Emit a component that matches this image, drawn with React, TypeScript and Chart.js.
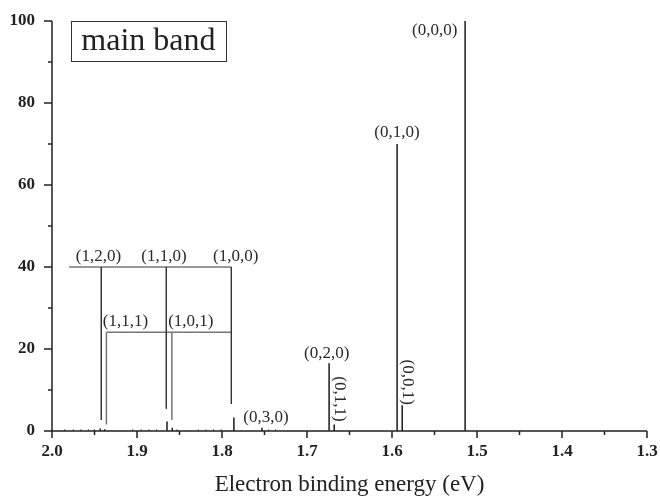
import React, { useEffect, useRef } from "react";
import { Chart, registerables } from "chart.js";
Chart.register(...registerables);

// Stick spectrum (electron binding energy in eV, relative intensity)
const peakEnergies = [1.514, 1.594, 1.588, 1.674, 1.668, 1.753, 1.786, 1.8647, 1.8585, 1.9432, 1.938];
const peakIntensities = [100, 70, 6.3, 16.5, 1.6, 0.8, 3.3, 2.3, 0.8, 0.6, 0.4];
const weakEnergies = [1.985, 1.975, 1.966, 1.957, 1.95, 1.905, 1.895, 1.886, 1.877, 1.853, 1.828, 1.819, 1.81, 1.801, 1.745, 1.737];
const weakIntensities = [0.4, 0.4, 0.4, 0.4, 0.4, 0.4, 0.4, 0.4, 0.4, 0.4, 0.4, 0.4, 0.4, 0.4, 0.4, 0.4];

// Assignment brackets (data coordinates)
const upperLevel = 40;
const upperStart = 1.98;
const upperDropEnergies = [1.942, 1.8655, 1.789];
const upperDropEnds = [2.7, 5.4, 6.6];
const lowerLevel = 24.1;
const lowerStart = 1.9357;
const lowerEnd = 1.789;
const lowerDropEnergies = [1.936, 1.859];
const lowerDropEnds = [1.6, 2.7];

// Labels
const labelTexts = ["(0,0,0)", "(0,1,0)", "(0,2,0)", "(0,3,0)", "(1,2,0)", "(1,1,0)", "(1,0,0)", "(1,1,1)", "(1,0,1)", "(0,1,1)", "(0,0,1)"];
const labelEnergies = [1.5498, 1.5941, 1.6768, 1.7482, 1.9453, 1.8682, 1.7839, 1.9135, 1.8367, 1.662, 1.5815];
const labelValues = [97.6, 72.9, 18.8, 3.2, 42.5, 42.5, 42.5, 26.6, 26.6, 7.8, 11.9];
const labelRotated = [false, false, false, false, false, false, false, false, false, true, true];

const bandTitle = "main band";

const xTickMin = 1.3;
const xTickMax = 2.0;
const yTickMin = 0;
const yTickMax = 100;

function sticks(energies: number[], values: number[]) {
  const pts: any[] = [];
  energies.forEach((e, i) => {
    pts.push({ x: e, y: 0 }, { x: e, y: values[i] }, { x: e, y: null });
  });
  return pts;
}

function bracket(level: number, start: number, end: number, drops: number[], ends: number[]) {
  const pts: any[] = [{ x: start, y: level }, { x: end, y: level }, { x: end, y: null }];
  drops.forEach((e, i) => {
    pts.push({ x: e, y: level }, { x: e, y: ends[i] }, { x: e, y: null });
  });
  return pts;
}

const SERIF = "'Liberation Serif', 'Times New Roman', serif";

const decorPlugin = {
  id: "decor",
  afterDraw(chart: any) {
    const { ctx, chartArea, scales } = chart;
    const xs = scales.x;
    const ys = scales.y;
    ctx.save();
    ctx.strokeStyle = "#222";
    ctx.lineWidth = 1.5;
    ctx.beginPath();
    ctx.moveTo(chartArea.left, chartArea.top);
    ctx.lineTo(chartArea.left, chartArea.bottom);
    ctx.lineTo(chartArea.right, chartArea.bottom);
    ctx.stroke();
    // y ticks
    for (let v = yTickMin; v <= yTickMax + 0.001; v += 10) {
      const py = ys.getPixelForValue(v);
      const major = Math.round(v) % 20 === 0;
      ctx.beginPath();
      ctx.moveTo(chartArea.left, py);
      ctx.lineTo(chartArea.left - (major ? 8 : 4), py);
      ctx.stroke();
    }
    // x ticks
    for (let k = 0; k <= 14; k++) {
      const v = xTickMin + k * 0.05;
      const px = xs.getPixelForValue(v);
      const major = k % 2 === 0;
      ctx.beginPath();
      ctx.moveTo(px, chartArea.bottom);
      ctx.lineTo(px, chartArea.bottom + (major ? 7 : 4));
      ctx.stroke();
    }
    // labels
    ctx.fillStyle = "#2a2a2a";
    ctx.font = `17px ${SERIF}`;
    ctx.textAlign = "center";
    ctx.textBaseline = "middle";
    labelTexts.forEach((t, i) => {
      const px = xs.getPixelForValue(labelEnergies[i]);
      const py = ys.getPixelForValue(labelValues[i]);
      if (labelRotated[i]) {
        ctx.save();
        ctx.translate(px, py);
        ctx.rotate(Math.PI / 2);
        ctx.fillText(t, 0, 0);
        ctx.restore();
      } else {
        ctx.fillText(t, px, py);
      }
    });
    // title box
    const bx0 = xs.getPixelForValue(1.9776);
    const bx1 = xs.getPixelForValue(1.7956);
    const by0 = ys.getPixelForValue(100);
    const by1 = ys.getPixelForValue(90.2);
    ctx.lineWidth = 1;
    ctx.strokeStyle = "#333";
    ctx.strokeRect(Math.round(bx0) + 0.5, Math.round(by0) + 0.5, Math.round(bx1 - bx0), Math.round(by1 - by0));
    ctx.font = `32px ${SERIF}`;
    ctx.fillStyle = "#222";
    ctx.fillText(bandTitle, (bx0 + bx1) / 2, (by0 + by1) / 2 + 1);
    ctx.restore();
  },
};

function zeroPad(s: any) {
  s.paddingTop = 0;
  s.paddingBottom = 0;
  s.paddingLeft = 0;
  s.paddingRight = 0;
}

export default function App() {
  const ref = useRef<HTMLCanvasElement | null>(null);
  useEffect(() => {
    if (!ref.current) return;
    const chart = new Chart(ref.current, {
      type: "line",
      data: {
        datasets: [
          {
            data: sticks(weakEnergies, weakIntensities),
            borderColor: "#333",
            borderWidth: 1,
            pointRadius: 0,
            spanGaps: false,
          },
          {
            data: sticks(peakEnergies, peakIntensities),
            borderColor: "#1a1a1a",
            borderWidth: 1.5,
            pointRadius: 0,
            spanGaps: false,
          },
          {
            data: bracket(upperLevel, upperStart, upperDropEnergies[2], upperDropEnergies, upperDropEnds),
            borderColor: "#333",
            borderWidth: 1,
            pointRadius: 0,
            spanGaps: false,
          },
          {
            data: bracket(lowerLevel, lowerStart, lowerEnd, lowerDropEnergies, lowerDropEnds),
            borderColor: "#777",
            borderWidth: 1.5,
            pointRadius: 0,
            spanGaps: false,
          },
        ],
      },
      options: {
        animation: false,
        responsive: false,
        maintainAspectRatio: false,
        parsing: false as any,
        layout: { padding: { top: 21, right: 13, bottom: 0, left: 0 } },
        plugins: { legend: { display: false }, tooltip: { enabled: false } },
        scales: {
          x: {
            type: "linear",
            reverse: true,
            min: xTickMin,
            max: xTickMax,
            grid: { display: false, drawTicks: false },
            border: { display: false },
            ticks: {
              stepSize: 0.1,
              padding: 10,
              color: "#222",
              font: { family: SERIF, size: 17, weight: "bold" },
              callback: (v: any) => Number(v).toFixed(1),
            },
            title: {
              display: true,
              text: "Electron binding energy (eV)",
              color: "#222",
              font: { family: SERIF, size: 23, lineHeight: 1 },
              padding: 0,
            },
            afterFit: (s: any) => {
              s.height = 65;
              zeroPad(s);
            },
          },
          y: {
            type: "linear",
            min: yTickMin,
            max: yTickMax,
            grid: { display: false, drawTicks: false },
            border: { display: false },
            ticks: {
              stepSize: 20,
              padding: 17,
              color: "#222",
              font: { family: SERIF, size: 17, weight: "bold" },
            },
            afterFit: (s: any) => {
              s.width = 52;
              zeroPad(s);
            },
          },
        },
      },
      plugins: [decorPlugin],
    });
    return () => chart.destroy();
  }, []);
  return (
    <div style={{ position: "absolute", left: 0, top: 0, width: 660, height: 496, background: "#fff" }}>
      <canvas ref={ref} width={660} height={496} style={{ display: "block", width: 660, height: 496 }} />
    </div>
  );
}
